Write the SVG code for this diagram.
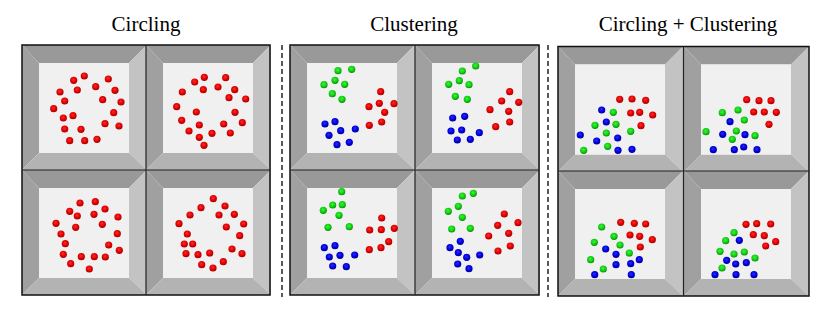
<svg xmlns="http://www.w3.org/2000/svg" xmlns:xlink="http://www.w3.org/1999/xlink" width="830" height="315" viewBox="0 0 830 315">
<style>
.title{font-family:"Liberation Serif","Times New Roman",serif;font-size:21px;fill:#000;text-anchor:middle}
.r{fill:url(#gr)}
.g{fill:url(#gg)}
.b{fill:url(#gb)}
.outline{fill:none;stroke:#111;stroke-width:1.5}
.div{stroke:#222;stroke-width:1.2}
.dash{stroke:#000;stroke-width:1.3;stroke-dasharray:5 3}
</style>
<defs>
<radialGradient id="gr" cx="0.45" cy="0.4" r="0.6">
<stop offset="0" stop-color="#ff2a2a"/><stop offset="0.6" stop-color="#e00000"/><stop offset="1" stop-color="#a80000"/>
</radialGradient>
<radialGradient id="gg" cx="0.45" cy="0.4" r="0.6">
<stop offset="0" stop-color="#40f040"/><stop offset="0.6" stop-color="#10d010"/><stop offset="1" stop-color="#009000"/>
</radialGradient>
<radialGradient id="gb" cx="0.45" cy="0.4" r="0.6">
<stop offset="0" stop-color="#2a2aff"/><stop offset="0.6" stop-color="#0000dd"/><stop offset="1" stop-color="#000098"/>
</radialGradient>
<g id="frame">
<polygon points="0,0 125,0 107,18 17,18" fill="#999999"/>
<polygon points="0,0 17,18 17,108 0,125" fill="#a0a0a0"/>
<polygon points="125,0 125,125 107,108 107,18" fill="#c3c3c3"/>
<polygon points="0,125 17,108 107,108 125,125" fill="#b3b3b3"/>
<rect x="17" y="18" width="90" height="90" fill="#f0f0f0"/>
</g>
</defs>
<rect width="830" height="315" fill="#fff"/>

<text class="title" x="146" y="31">Circling</text>
<text class="title" x="414" y="31">Clustering</text>
<text class="title" x="688" y="31">Circling + Clustering</text>

<g id="separators">
<line class="dash" x1="282" y1="45" x2="282" y2="297"/>
<line class="dash" x1="548" y1="45" x2="548" y2="297"/>
</g>

<g id="group-circling">
<use xlink:href="#frame" x="22" y="45"/>
<use xlink:href="#frame" x="146" y="45"/>
<use xlink:href="#frame" x="22" y="170"/>
<use xlink:href="#frame" x="146" y="170"/>
<rect class="outline" x="22" y="45" width="248" height="250"/>
<line class="div" x1="146" y1="45" x2="146" y2="295"/>
<line class="div" x1="22" y1="170" x2="270" y2="170"/>
</g>
<g id="group-clustering">
<use xlink:href="#frame" x="290" y="45"/>
<use xlink:href="#frame" x="415" y="45"/>
<use xlink:href="#frame" x="290" y="170"/>
<use xlink:href="#frame" x="415" y="170"/>
<rect class="outline" x="290" y="45" width="249" height="250"/>
<line class="div" x1="415" y1="45" x2="415" y2="295"/>
<line class="div" x1="290" y1="170" x2="539" y2="170"/>
</g>
<g id="group-both">
<use xlink:href="#frame" x="558" y="46.5"/>
<use xlink:href="#frame" x="684" y="46.5"/>
<use xlink:href="#frame" x="558" y="171"/>
<use xlink:href="#frame" x="684" y="171"/>
<rect class="outline" x="558" y="46.5" width="251" height="249.5"/>
<line class="div" x1="683.5" y1="46.5" x2="683.5" y2="296"/>
<line class="div" x1="558" y1="171" x2="809" y2="171"/>
</g>

<g id="panel1">
<circle class="r" cx="84.3" cy="76" r="3.6"/><circle class="r" cx="73.7" cy="80.3" r="3.6"/><circle class="r" cx="108.3" cy="79" r="3.6"/>
<circle class="r" cx="60" cy="92" r="3.6"/><circle class="r" cx="77.3" cy="90" r="3.6"/><circle class="r" cx="95.7" cy="86.7" r="3.6"/>
<circle class="r" cx="115" cy="90.3" r="3.6"/><circle class="r" cx="64.7" cy="101" r="3.6"/><circle class="r" cx="102.7" cy="99.7" r="3.6"/>
<circle class="r" cx="121" cy="102" r="3.6"/><circle class="r" cx="53.7" cy="108.7" r="3.6"/><circle class="r" cx="73" cy="115.7" r="3.6"/>
<circle class="r" cx="63.3" cy="118" r="3.6"/><circle class="r" cx="113.7" cy="112.7" r="3.6"/><circle class="r" cx="105" cy="123.7" r="3.6"/>
<circle class="r" cx="119" cy="126" r="3.6"/><circle class="r" cx="64.7" cy="129" r="3.6"/><circle class="r" cx="81" cy="129.3" r="3.6"/>
<circle class="r" cx="69.7" cy="140.7" r="3.6"/><circle class="r" cx="84.7" cy="140.7" r="3.6"/><circle class="r" cx="97" cy="139.3" r="3.6"/>
</g>
<g id="panel2">
<circle class="r" cx="204.3" cy="77.3" r="3.6"/><circle class="r" cx="194.7" cy="82" r="3.6"/><circle class="r" cx="225.7" cy="77.7" r="3.6"/>
<circle class="r" cx="182.3" cy="92" r="3.6"/><circle class="r" cx="203.3" cy="89.7" r="3.6"/><circle class="r" cx="218" cy="87" r="3.6"/>
<circle class="r" cx="234.7" cy="89.7" r="3.6"/><circle class="r" cx="229" cy="97.7" r="3.6"/><circle class="r" cx="245.7" cy="99" r="3.6"/>
<circle class="r" cx="176.7" cy="106.7" r="3.6"/><circle class="r" cx="196.3" cy="112" r="3.6"/><circle class="r" cx="235" cy="112.3" r="3.6"/>
<circle class="r" cx="181.7" cy="120.3" r="3.6"/><circle class="r" cx="199.3" cy="125" r="3.6"/><circle class="r" cx="223.7" cy="124" r="3.6"/>
<circle class="r" cx="242.3" cy="122.7" r="3.6"/><circle class="r" cx="189" cy="131" r="3.6"/><circle class="r" cx="212" cy="133.3" r="3.6"/>
<circle class="r" cx="230.3" cy="133" r="3.6"/><circle class="r" cx="199.3" cy="137.3" r="3.6"/><circle class="r" cx="204" cy="145.3" r="3.6"/>
</g>
<g id="panel3">
<circle class="r" cx="80" cy="203" r="3.6"/><circle class="r" cx="95.3" cy="201.7" r="3.6"/><circle class="r" cx="69.7" cy="211.3" r="3.6"/>
<circle class="r" cx="77.3" cy="216" r="3.6"/><circle class="r" cx="94" cy="214.3" r="3.6"/><circle class="r" cx="105" cy="209" r="3.6"/>
<circle class="r" cx="118" cy="217" r="3.6"/><circle class="r" cx="56" cy="223.3" r="3.6"/><circle class="r" cx="75.7" cy="227.3" r="3.6"/>
<circle class="r" cx="102.3" cy="224.3" r="3.6"/><circle class="r" cx="61" cy="234" r="3.6"/><circle class="r" cx="117.3" cy="233.7" r="3.6"/>
<circle class="r" cx="65.3" cy="243.7" r="3.6"/><circle class="r" cx="108.7" cy="245" r="3.6"/><circle class="r" cx="119.3" cy="250.3" r="3.6"/>
<circle class="r" cx="63.3" cy="254.3" r="3.6"/><circle class="r" cx="81.3" cy="256.7" r="3.6"/><circle class="r" cx="94.3" cy="256.7" r="3.6"/>
<circle class="r" cx="105.3" cy="257" r="3.6"/><circle class="r" cx="70.7" cy="263.7" r="3.6"/><circle class="r" cx="89.3" cy="269" r="3.6"/>
</g>
<g id="panel4">
<circle class="r" cx="213.3" cy="198.7" r="3.6"/><circle class="r" cx="201" cy="207.7" r="3.6"/><circle class="r" cx="225" cy="206" r="3.6"/>
<circle class="r" cx="190" cy="215" r="3.6"/><circle class="r" cx="219" cy="215" r="3.6"/><circle class="r" cx="234.3" cy="214.3" r="3.6"/>
<circle class="r" cx="179" cy="223.7" r="3.6"/><circle class="r" cx="226.3" cy="227" r="3.6"/><circle class="r" cx="243.7" cy="224" r="3.6"/>
<circle class="r" cx="187.3" cy="234" r="3.6"/><circle class="r" cx="239.7" cy="235.7" r="3.6"/><circle class="r" cx="184.3" cy="244" r="3.6"/>
<circle class="r" cx="192.7" cy="244" r="3.6"/><circle class="r" cx="232" cy="249" r="3.6"/><circle class="r" cx="186" cy="253.7" r="3.6"/>
<circle class="r" cx="198" cy="254.7" r="3.6"/><circle class="r" cx="209.7" cy="253" r="3.6"/><circle class="r" cx="242" cy="253.7" r="3.6"/>
<circle class="r" cx="223.3" cy="261.7" r="3.6"/><circle class="r" cx="201.7" cy="264.7" r="3.6"/><circle class="r" cx="213" cy="268" r="3.6"/>
</g>

<g id="panel5">
<circle class="g" cx="338" cy="70.7" r="3.6"/><circle class="g" cx="351.7" cy="69.3" r="3.6"/><circle class="g" cx="335" cy="80.3" r="3.6"/>
<circle class="g" cx="324" cy="84.7" r="3.6"/><circle class="g" cx="344.7" cy="84.3" r="3.6"/><circle class="g" cx="332.3" cy="93.7" r="3.6"/>
<circle class="g" cx="342" cy="99.3" r="3.6"/>
<circle class="r" cx="380.7" cy="91.7" r="3.6"/><circle class="r" cx="379.3" cy="103.3" r="3.6"/><circle class="r" cx="369" cy="106.7" r="3.6"/>
<circle class="r" cx="394" cy="103.7" r="3.6"/><circle class="r" cx="384.7" cy="112.3" r="3.6"/><circle class="r" cx="381.7" cy="122" r="3.6"/>
<circle class="r" cx="369.3" cy="125.3" r="3.6"/>
<circle class="b" cx="335" cy="121.7" r="3.6"/><circle class="b" cx="325" cy="124" r="3.6"/><circle class="b" cx="340.7" cy="130.7" r="3.6"/>
<circle class="b" cx="355.3" cy="129" r="3.6"/><circle class="b" cx="329" cy="135.3" r="3.6"/><circle class="b" cx="349.3" cy="142.3" r="3.6"/>
<circle class="b" cx="337" cy="144.7" r="3.6"/>
</g>
<g id="panel6">
<circle class="g" cx="475.7" cy="66" r="3.6"/><circle class="g" cx="462.3" cy="71" r="3.6"/><circle class="g" cx="459.3" cy="80.7" r="3.6"/>
<circle class="g" cx="448.7" cy="84.3" r="3.6"/><circle class="g" cx="469" cy="84.7" r="3.6"/><circle class="g" cx="455.3" cy="96.3" r="3.6"/>
<circle class="g" cx="467.3" cy="99.3" r="3.6"/>
<circle class="r" cx="509.7" cy="91.7" r="3.6"/><circle class="r" cx="501.7" cy="101" r="3.6"/><circle class="r" cx="518.7" cy="102.3" r="3.6"/>
<circle class="r" cx="490" cy="109.7" r="3.6"/><circle class="r" cx="508.7" cy="111.3" r="3.6"/><circle class="r" cx="509.7" cy="122" r="3.6"/>
<circle class="r" cx="495.7" cy="126.7" r="3.6"/>
<circle class="b" cx="464.7" cy="116.3" r="3.6"/><circle class="b" cx="452.7" cy="118" r="3.6"/><circle class="b" cx="461.7" cy="130" r="3.6"/>
<circle class="b" cx="451" cy="131" r="3.6"/><circle class="b" cx="479.3" cy="132.7" r="3.6"/><circle class="b" cx="457.3" cy="140" r="3.6"/>
<circle class="b" cx="470.3" cy="139.3" r="3.6"/>
</g>
<g id="panel7">
<circle class="g" cx="341.7" cy="191.7" r="3.6"/><circle class="g" cx="332.7" cy="205" r="3.6"/><circle class="g" cx="342.3" cy="204.7" r="3.6"/>
<circle class="g" cx="323.3" cy="210.3" r="3.6"/><circle class="g" cx="339" cy="215.3" r="3.6"/><circle class="g" cx="328" cy="227.3" r="3.6"/>
<circle class="g" cx="349.3" cy="226.7" r="3.6"/>
<circle class="r" cx="381.7" cy="218" r="3.6"/><circle class="r" cx="369.7" cy="230" r="3.6"/><circle class="r" cx="381.3" cy="229.7" r="3.6"/>
<circle class="r" cx="394.3" cy="228.3" r="3.6"/><circle class="r" cx="388.7" cy="241.7" r="3.6"/><circle class="r" cx="381" cy="247.7" r="3.6"/>
<circle class="r" cx="369.3" cy="249.7" r="3.6"/>
<circle class="b" cx="335" cy="245.7" r="3.6"/><circle class="b" cx="324.3" cy="247.7" r="3.6"/><circle class="b" cx="329.3" cy="257" r="3.6"/>
<circle class="b" cx="340" cy="255.3" r="3.6"/><circle class="b" cx="354.7" cy="255" r="3.6"/><circle class="b" cx="332.7" cy="266" r="3.6"/>
<circle class="b" cx="346.3" cy="266.7" r="3.6"/>
</g>
<g id="panel8">
<circle class="g" cx="473.3" cy="193.3" r="3.6"/><circle class="g" cx="462.3" cy="196" r="3.6"/><circle class="g" cx="458.3" cy="206.3" r="3.6"/>
<circle class="g" cx="448.3" cy="211.3" r="3.6"/><circle class="g" cx="462.3" cy="217.3" r="3.6"/><circle class="g" cx="451.7" cy="229" r="3.6"/>
<circle class="g" cx="470.3" cy="228.3" r="3.6"/>
<circle class="r" cx="504.3" cy="214" r="3.6"/><circle class="r" cx="497.7" cy="225.3" r="3.6"/><circle class="r" cx="518" cy="222.7" r="3.6"/>
<circle class="r" cx="508.7" cy="233.3" r="3.6"/><circle class="r" cx="488.7" cy="236" r="3.6"/><circle class="r" cx="510.3" cy="246" r="3.6"/>
<circle class="r" cx="498" cy="251" r="3.6"/>
<circle class="b" cx="460.3" cy="241.3" r="3.6"/><circle class="b" cx="450" cy="247.7" r="3.6"/><circle class="b" cx="458.3" cy="252.7" r="3.6"/>
<circle class="b" cx="466.7" cy="257.3" r="3.6"/><circle class="b" cx="479.7" cy="255" r="3.6"/><circle class="b" cx="457.7" cy="264" r="3.6"/>
<circle class="b" cx="469" cy="268.7" r="3.6"/>
</g>

<g id="panel9">
<circle class="r" cx="619.7" cy="99.3" r="3.6"/><circle class="r" cx="632" cy="99" r="3.6"/><circle class="r" cx="645.7" cy="100.3" r="3.6"/>
<circle class="r" cx="630.7" cy="113" r="3.6"/><circle class="r" cx="639.7" cy="112.3" r="3.6"/><circle class="r" cx="652.7" cy="115" r="3.6"/>
<circle class="r" cx="641" cy="125.7" r="3.6"/>
<circle class="g" cx="613.3" cy="112.3" r="3.6"/><circle class="g" cx="616" cy="124.3" r="3.6"/><circle class="g" cx="595" cy="125.3" r="3.6"/>
<circle class="g" cx="606.3" cy="133" r="3.6"/><circle class="g" cx="630.7" cy="131.3" r="3.6"/><circle class="g" cx="607.7" cy="146.3" r="3.6"/>
<circle class="g" cx="583.7" cy="150.3" r="3.6"/>
<circle class="b" cx="601.7" cy="110" r="3.6"/><circle class="b" cx="606.3" cy="122" r="3.6"/><circle class="b" cx="580.3" cy="135" r="3.6"/>
<circle class="b" cx="617.7" cy="138" r="3.6"/><circle class="b" cx="596.7" cy="141" r="3.6"/><circle class="b" cx="618" cy="150.3" r="3.6"/>
<circle class="b" cx="632" cy="149.3" r="3.6"/>
</g>
<g id="panel10">
<circle class="r" cx="746.7" cy="99.7" r="3.6"/><circle class="r" cx="759" cy="100.7" r="3.6"/><circle class="r" cx="771" cy="100.7" r="3.6"/>
<circle class="r" cx="753.7" cy="112" r="3.6"/><circle class="r" cx="764.3" cy="112" r="3.6"/><circle class="r" cx="776.3" cy="112.3" r="3.6"/>
<circle class="r" cx="769" cy="124.3" r="3.6"/>
<circle class="g" cx="738" cy="110" r="3.6"/><circle class="g" cx="722.3" cy="112.7" r="3.6"/><circle class="g" cx="744.3" cy="120" r="3.6"/>
<circle class="g" cx="706" cy="131.7" r="3.6"/><circle class="g" cx="736.3" cy="131" r="3.6"/><circle class="g" cx="755" cy="135.7" r="3.6"/>
<circle class="g" cx="732.3" cy="139.3" r="3.6"/>
<circle class="b" cx="730" cy="121.7" r="3.6"/><circle class="b" cx="722.7" cy="134.3" r="3.6"/><circle class="b" cx="745" cy="134.7" r="3.6"/>
<circle class="b" cx="743.7" cy="147" r="3.6"/><circle class="b" cx="713.3" cy="149.7" r="3.6"/><circle class="b" cx="734.3" cy="149.7" r="3.6"/>
<circle class="b" cx="757" cy="149.7" r="3.6"/>
</g>
<g id="panel11">
<circle class="r" cx="620.7" cy="222.3" r="3.6"/><circle class="r" cx="634.3" cy="223.3" r="3.6"/><circle class="r" cx="645.7" cy="224" r="3.6"/>
<circle class="r" cx="630" cy="235" r="3.6"/><circle class="r" cx="639.7" cy="236.3" r="3.6"/><circle class="r" cx="652.3" cy="239.7" r="3.6"/>
<circle class="r" cx="640.3" cy="247" r="3.6"/>
<circle class="g" cx="601.7" cy="227" r="3.6"/><circle class="g" cx="614" cy="236.3" r="3.6"/><circle class="g" cx="594.3" cy="242.3" r="3.6"/>
<circle class="g" cx="620" cy="245" r="3.6"/><circle class="g" cx="629.3" cy="253" r="3.6"/><circle class="g" cx="590.7" cy="259.7" r="3.6"/>
<circle class="g" cx="603.3" cy="269" r="3.6"/>
<circle class="b" cx="605.7" cy="249" r="3.6"/><circle class="b" cx="616" cy="254.3" r="3.6"/><circle class="b" cx="639.3" cy="259.7" r="3.6"/>
<circle class="b" cx="616" cy="264.7" r="3.6"/><circle class="b" cx="630.7" cy="263.7" r="3.6"/><circle class="b" cx="594.7" cy="274.7" r="3.6"/>
<circle class="b" cx="631.3" cy="274.7" r="3.6"/>
</g>
<g id="panel12">
<circle class="r" cx="746" cy="224.3" r="3.6"/><circle class="r" cx="756.7" cy="223.7" r="3.6"/><circle class="r" cx="770.7" cy="224" r="3.6"/>
<circle class="r" cx="753.3" cy="234.7" r="3.6"/><circle class="r" cx="764.3" cy="235.7" r="3.6"/><circle class="r" cx="775.7" cy="241.7" r="3.6"/>
<circle class="r" cx="765.7" cy="246" r="3.6"/>
<circle class="g" cx="734" cy="232.7" r="3.6"/><circle class="g" cx="725.7" cy="240.7" r="3.6"/><circle class="g" cx="720" cy="251.3" r="3.6"/>
<circle class="g" cx="734" cy="254" r="3.6"/><circle class="g" cx="744.3" cy="252" r="3.6"/><circle class="g" cx="755" cy="258" r="3.6"/>
<circle class="g" cx="722" cy="268" r="3.6"/>
<circle class="b" cx="739.3" cy="240.3" r="3.6"/><circle class="b" cx="726.7" cy="260.3" r="3.6"/><circle class="b" cx="735.7" cy="264" r="3.6"/>
<circle class="b" cx="746.3" cy="262.7" r="3.6"/><circle class="b" cx="715" cy="274.7" r="3.6"/><circle class="b" cx="736" cy="274.7" r="3.6"/>
<circle class="b" cx="754" cy="274.7" r="3.6"/>
</g>
</svg>
